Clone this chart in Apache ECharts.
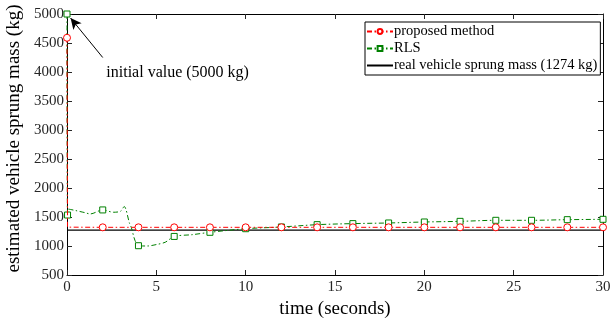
<!DOCTYPE html>
<html><head><meta charset="utf-8">
<script src="https://cdn.jsdelivr.net/npm/echarts@6/dist/echarts.min.js"></script>
<style>html,body{margin:0;padding:0;background:#fff}#c{width:615px;height:320px}</style>
</head><body><div id="c"></div>
<script>
// time (s) and estimated mass (kg)
var proposedT = [0, 0.03, 2, 4, 6, 8, 10, 12, 14, 16, 18, 20, 22, 24, 26, 28, 30];
var proposedV = [4590, 1325, 1322, 1322, 1322, 1322, 1322, 1322, 1322, 1322, 1322, 1322, 1322, 1322, 1322, 1322, 1322];
var proposedMarker = [1, 0, 1, 1, 1, 1, 1, 1, 1, 1, 1, 1, 1, 1, 1, 1, 1];

var rlsT = [0, 0.03, 0.08, 0.5, 1.0, 1.3, 2.0, 2.6, 3.0, 3.2, 3.5, 3.6, 3.8, 4.0, 4.5, 5.0, 5.5, 6.0, 7.0, 8.0, 10, 12, 14, 16, 18, 20, 22, 24, 26, 28, 30];
var rlsV = [5000, 1534, 1635, 1610, 1575, 1553, 1622, 1582, 1600, 1680, 1390, 1320, 1100, 1005, 1000, 1025, 1065, 1165, 1195, 1236, 1298, 1328, 1368, 1386, 1397, 1414, 1425, 1443, 1443, 1454, 1460];
var rlsMarker = [1, 1, 0, 0, 0, 0, 1, 0, 0, 0, 0, 0, 0, 1, 0, 0, 0, 1, 0, 1, 1, 1, 1, 1, 1, 1, 1, 1, 1, 1, 1];

var realT = [0, 30];
var realV = [1274, 1274];

var xTicks = [0, 5, 10, 15, 20, 25, 30];
var yTicks = [500, 1000, 1500, 2000, 2500, 3000, 3500, 4000, 4500, 5000];

function build(t, v, m) {
  return t.map(function (x, i) {
    var o = { value: [x, v[i]] };
    if (m && !m[i]) o.symbol = 'none';
    return o;
  });
}

var FONT = 'Liberation Serif';
var chart = echarts.init(document.getElementById('c'));
function axisCommon() {
  return {
    axisLine: { show: true, onZero: false, lineStyle: { color: '#000', width: 1 } },
    axisTick: { show: true, inside: true, length: 5, lineStyle: { color: '#262626' } },
    splitLine: { show: false }
  };
}
var plain = function (v) { return String(v); };
chart.setOption({
  backgroundColor: '#fff',
  animation: false,
  textStyle: { fontFamily: FONT },
  grid: { left: 67, right: 12, top: 14, bottom: 45, containLabel: false, outerBoundsMode: 'none' },
  legend: {
    left: 365, top: 22, width: 222,
    orient: 'vertical',
    itemGap: 0, itemWidth: 26, itemHeight: 6,
    padding: [1, 3, 1, 1],
    borderColor: '#000', borderWidth: 1,
    backgroundColor: '#fff',
    textStyle: { fontFamily: FONT, fontSize: 14.5, lineHeight: 17, color: '#000', padding: [0, 0, 0, -4] },
    data: [
      { name: 'proposed method' },
      { name: 'RLS' },
      { name: 'real vehicle sprung mass (1274 kg)', itemStyle: { opacity: 0 } }
    ]
  },
  xAxis: [
    Object.assign({
      type: 'value', min: 0, max: 30, interval: 5,
      name: 'time (seconds)', nameLocation: 'middle', nameGap: 19,
      nameTextStyle: { fontFamily: FONT, fontSize: 19, color: '#000' },
      axisLabel: { fontFamily: FONT, fontSize: 15, color: '#262626', margin: 5, formatter: plain }
    }, axisCommon()),
    Object.assign({
      type: 'value', min: 0, max: 30, interval: 5, position: 'top',
      axisLabel: { show: false }
    }, axisCommon())
  ],
  yAxis: [
    Object.assign({
      type: 'value', min: 500, max: 5000, interval: 500,
      name: 'estimated vehicle sprung mass (kg)', nameLocation: 'middle', nameGap: 37,
      nameTextStyle: { fontFamily: FONT, fontSize: 19, color: '#000', padding: [0, 0, 0, 12] },
      axisLabel: { fontFamily: FONT, fontSize: 15, color: '#262626', margin: 3, formatter: plain }
    }, axisCommon()),
    Object.assign({
      type: 'value', min: 500, max: 5000, interval: 500, position: 'right',
      axisLabel: { show: false }
    }, axisCommon())
  ],
  series: [
    {
      name: 'real vehicle sprung mass (1274 kg)', type: 'line',
      data: build(realT, realV), showSymbol: false, symbol: 'none',
      lineStyle: { color: '#000', width: 1.3 }, itemStyle: { color: '#000' }, z: 1
    },
    {
      name: 'proposed method', type: 'line',
      data: build(proposedT, proposedV, proposedMarker),
      symbol: 'circle', symbolSize: 7, showAllSymbol: true,
      lineStyle: { color: '#ff0000', width: 1, type: [5, 2.5, 1.5, 2.5] },
      itemStyle: { color: '#fff', borderColor: '#ff0000', borderWidth: 1 }, z: 3
    },
    {
      name: 'RLS', type: 'line', smooth: 0.3,
      data: build(rlsT, rlsV, rlsMarker),
      symbol: 'rect', symbolSize: 6, showAllSymbol: true,
      lineStyle: { color: '#008000', width: 1, type: [5, 2.5, 1.5, 2.5] },
      itemStyle: { color: '#fff', borderColor: '#008000', borderWidth: 1 }, z: 2,
      markLine: {
        silent: true, symbol: ['none', 'arrow'], symbolSize: [8, 11],
        lineStyle: { color: '#000', width: 1, type: 'solid' },
        label: { show: false },
        data: [[{ coord: [2.0, 4250] }, { coord: [0.2, 4930] }]]
      },
      markPoint: {
        symbol: 'circle', symbolSize: 0,
        data: [{ coord: [2.2, 3990], label: { show: true, position: 'right', distance: 0, formatter: 'initial value (5000 kg)', fontFamily: FONT, fontSize: 16, color: '#000' } }]
      }
    }
  ]
});
</script></body></html>
